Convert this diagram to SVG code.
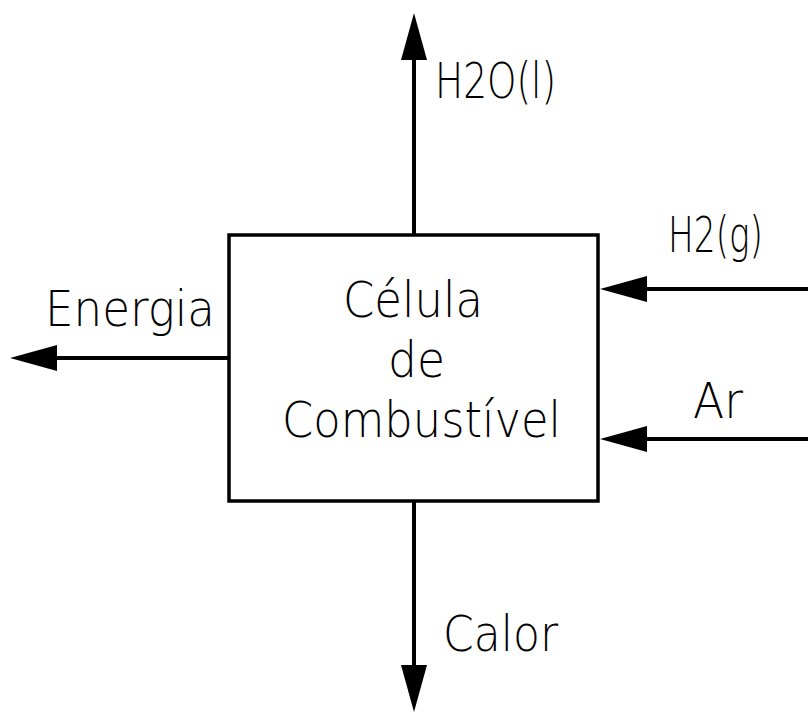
<svg xmlns="http://www.w3.org/2000/svg" width="808" height="714" viewBox="0 0 808 714">
<style>
.t{font-family:"DejaVu Sans","Liberation Sans",sans-serif;font-weight:200;font-size:49px;fill:#000}
.ln{stroke:#000;stroke-width:4;fill:none;marker-end:url(#ah)}
.box{stroke:#000;stroke-width:3.5;fill:#fff}
</style>
<defs>
<marker id="ah" markerUnits="userSpaceOnUse" markerWidth="48" markerHeight="28" refX="27" refY="13" orient="auto">
<path d="M0,0 L47,13 L0,26 Z" fill="#000"/>
</marker>
</defs>
<rect width="808" height="714" fill="#fff"/>
<g id="connectors">
<line class="ln" x1="414" y1="235" x2="414" y2="33"/>
<line class="ln" x1="414" y1="501" x2="414" y2="692"/>
<line class="ln" x1="229" y1="358" x2="30" y2="358"/>
<line class="ln" x1="808" y1="289" x2="620" y2="289"/>
<line class="ln" x1="808" y1="439" x2="620" y2="439"/>
<text class="t" x="435" y="98" textLength="121" lengthAdjust="spacingAndGlyphs">H2O(l)</text>
<text class="t" x="443" y="651" textLength="115" lengthAdjust="spacingAndGlyphs">Calor</text>
<text class="t" x="45" y="326" textLength="170" lengthAdjust="spacingAndGlyphs">Energia</text>
<text class="t" x="668" y="252" textLength="95" lengthAdjust="spacingAndGlyphs">H2(g)</text>
<text class="t" x="693" y="418" textLength="50" lengthAdjust="spacingAndGlyphs">Ar</text>
</g>
<g id="celula">
<rect class="box" x="229" y="235" width="369" height="266"/>
<text class="t" x="343" y="317" textLength="140" lengthAdjust="spacingAndGlyphs">Célula</text>
<text class="t" x="388" y="377" textLength="57" lengthAdjust="spacingAndGlyphs">de</text>
<text class="t" x="282" y="437" textLength="279" lengthAdjust="spacingAndGlyphs">Combustível</text>
</g>
</svg>
